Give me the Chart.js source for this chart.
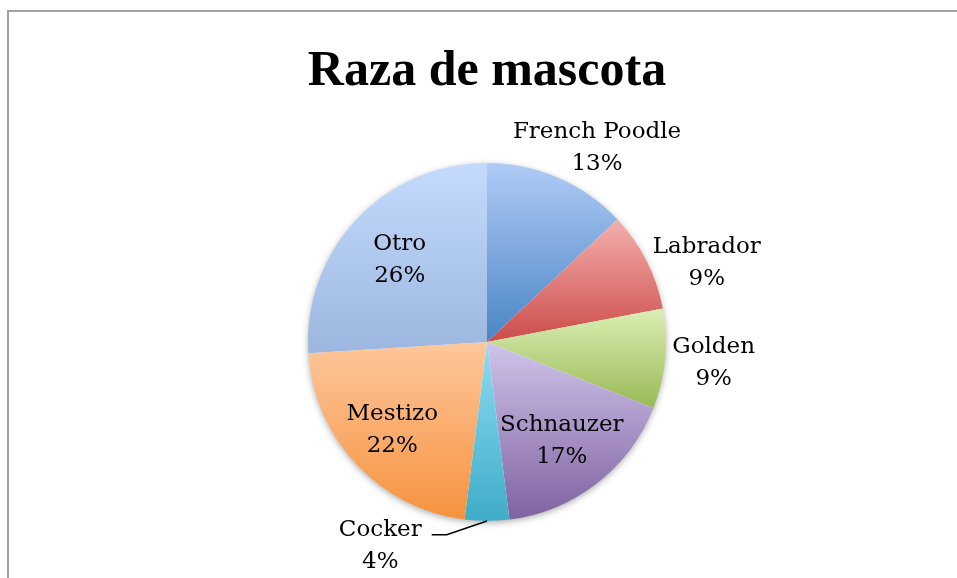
<!DOCTYPE html>
<html>
<head>
<meta charset="utf-8">
<script src="https://cdn.jsdelivr.net/npm/chart.js@4/dist/chart.umd.min.js"></script>
<style>
  html, body { margin: 0; padding: 0; background: #ffffff; }
  #wrap { width: 957px; height: 578px; }
</style>
</head>
<body>
<div id="wrap"><canvas id="c" width="957" height="578"></canvas></div>
<script>
// ---- data ----
const chartTitle = 'Raza de mascota';
const categories = ['French Poodle', 'Labrador', 'Golden', 'Schnauzer', 'Cocker', 'Mestizo', 'Otro'];
const percentages = [13, 9, 9, 17, 4, 22, 26];

// ---- styles ----
const topColors    = ['#b0cbf5', '#f4b0ae', '#dbefb5', '#d0c4ea', '#8edcf2', '#fec79c', '#c4dbfd'];
const bottomColors = ['#4a85c6', '#cc4c49', '#98b955', '#7f62a1', '#3facc8', '#f6923e', '#9cb6df'];
// label placement: radial factor (of radius) and angular shift (degrees, clockwise)
const labelRadius = [1.26, 1.31, 1.27, 0.68, 1.27, 0.71, 0.68];
const labelShift  = [5.8, 6.6, -0.9, -0.1, 28, 1.4, 1.0];
const leaderLine  = [false, false, false, false, true, false, false];
const labelFont = '23px "DejaVu Serif"';
const titleFont = 'bold 50px "Liberation Serif"';

function sliceGradient(ctx) {
  const chart = ctx.chart;
  const area = chart.chartArea;
  if (!area) return topColors[ctx.dataIndex];
  const i = ctx.dataIndex;
  const cx = (area.left + area.right) / 2;
  const cy = (area.top + area.bottom) / 2;
  const r = Math.min(area.right - area.left, area.bottom - area.top) / 2;
  const total = percentages.reduce((a, b) => a + b, 0);
  let before = 0;
  for (let k = 0; k < i; k++) before += percentages[k];
  const a0 = -Math.PI / 2 + (before / total) * Math.PI * 2;
  const a1 = a0 + (percentages[i] / total) * Math.PI * 2;
  const ys = [cy, cy + r * Math.sin(a0), cy + r * Math.sin(a1)];
  const inArc = (a) => {
    for (let t = a; t < a1 + 4 * Math.PI; t += 2 * Math.PI) {
      if (t >= a0 && t <= a1) return true;
    }
    return false;
  };
  if (inArc(-Math.PI / 2)) ys.push(cy - r);
  if (inArc(Math.PI / 2)) ys.push(cy + r);
  const y0 = Math.min(...ys), y1 = Math.max(...ys);
  const g = chart.ctx.createLinearGradient(0, y0, 0, y1 === y0 ? y0 + 1 : y1);
  g.addColorStop(0, topColors[i]);
  g.addColorStop(1, bottomColors[i]);
  return g;
}

const framePlugin = {
  id: 'frame',
  beforeDraw(chart) {
    const c = chart.ctx;
    c.save();
    c.fillStyle = '#ffffff';
    c.fillRect(0, 0, chart.width, chart.height);
    c.strokeStyle = '#a3a3a3';
    c.lineWidth = 2;
    c.beginPath();
    c.moveTo(8, chart.height);
    c.lineTo(8, 11);
    c.lineTo(chart.width, 11);
    c.stroke();
    c.restore();
  }
};

const shadowPlugin = {
  id: 'pieShadow',
  beforeDatasetsDraw(chart) {
    const arc = chart.getDatasetMeta(0).data[0];
    if (!arc) return;
    const c = chart.ctx;
    c.save();
    c.shadowColor = 'rgba(0,0,0,0.35)';
    c.shadowBlur = 7;
    c.shadowOffsetX = 0;
    c.shadowOffsetY = 2;
    c.fillStyle = '#ffffff';
    c.beginPath();
    c.arc(arc.x, arc.y, arc.outerRadius - 0.5, 0, Math.PI * 2);
    c.fill();
    c.restore();
  }
};

const labelPlugin = {
  id: 'sliceLabels',
  afterDatasetsDraw(chart) {
    const meta = chart.getDatasetMeta(0);
    const c = chart.ctx;
    c.save();
    c.font = labelFont;
    c.fillStyle = '#000000';
    c.textAlign = 'center';
    c.textBaseline = 'alphabetic';
    meta.data.forEach((arc, i) => {
      const mid = (arc.startAngle + arc.endAngle) / 2;
      const ang = mid + labelShift[i] * Math.PI / 180;
      const lx = arc.x + Math.cos(ang) * arc.outerRadius * labelRadius[i];
      const ly = arc.y + Math.sin(ang) * arc.outerRadius * labelRadius[i];
      const line1 = categories[i];
      const line2 = percentages[i] + '%';
      c.fillText(line1, lx, ly - 7);
      c.fillText(line2, lx, ly + 25);
      if (leaderLine[i]) {
        const w = c.measureText(line1).width;
        const ex = arc.x + Math.cos(mid) * arc.outerRadius;
        const ey = arc.y + Math.sin(mid) * arc.outerRadius;
        const hx = lx + w / 2 + 10;
        const hy = ly - 8;
        c.save();
        c.strokeStyle = '#000000';
        c.lineWidth = 1.5;
        c.beginPath();
        c.moveTo(ex, ey);
        c.lineTo(hx + 15, hy);
        c.lineTo(hx, hy);
        c.stroke();
        c.restore();
      }
    });
    // title
    c.font = titleFont;
    c.textAlign = 'center';
    c.textBaseline = 'alphabetic';
    c.fillText(chartTitle, 487, 85);
    c.restore();
  }
};

new Chart(document.getElementById('c'), {
  type: 'pie',
  data: {
    labels: categories,
    datasets: [{
      data: percentages,
      backgroundColor: sliceGradient,
      borderWidth: 0,
      hoverOffset: 0
    }]
  },
  options: {
    responsive: false,
    animation: false,
    devicePixelRatio: 1,
    layout: { padding: { top: 163, bottom: 57, left: 17, right: 0 } },
    plugins: {
      legend: { display: false },
      title: { display: false },
      tooltip: { enabled: false }
    }
  },
  plugins: [framePlugin, shadowPlugin, labelPlugin]
});
</script>
</body>
</html>
